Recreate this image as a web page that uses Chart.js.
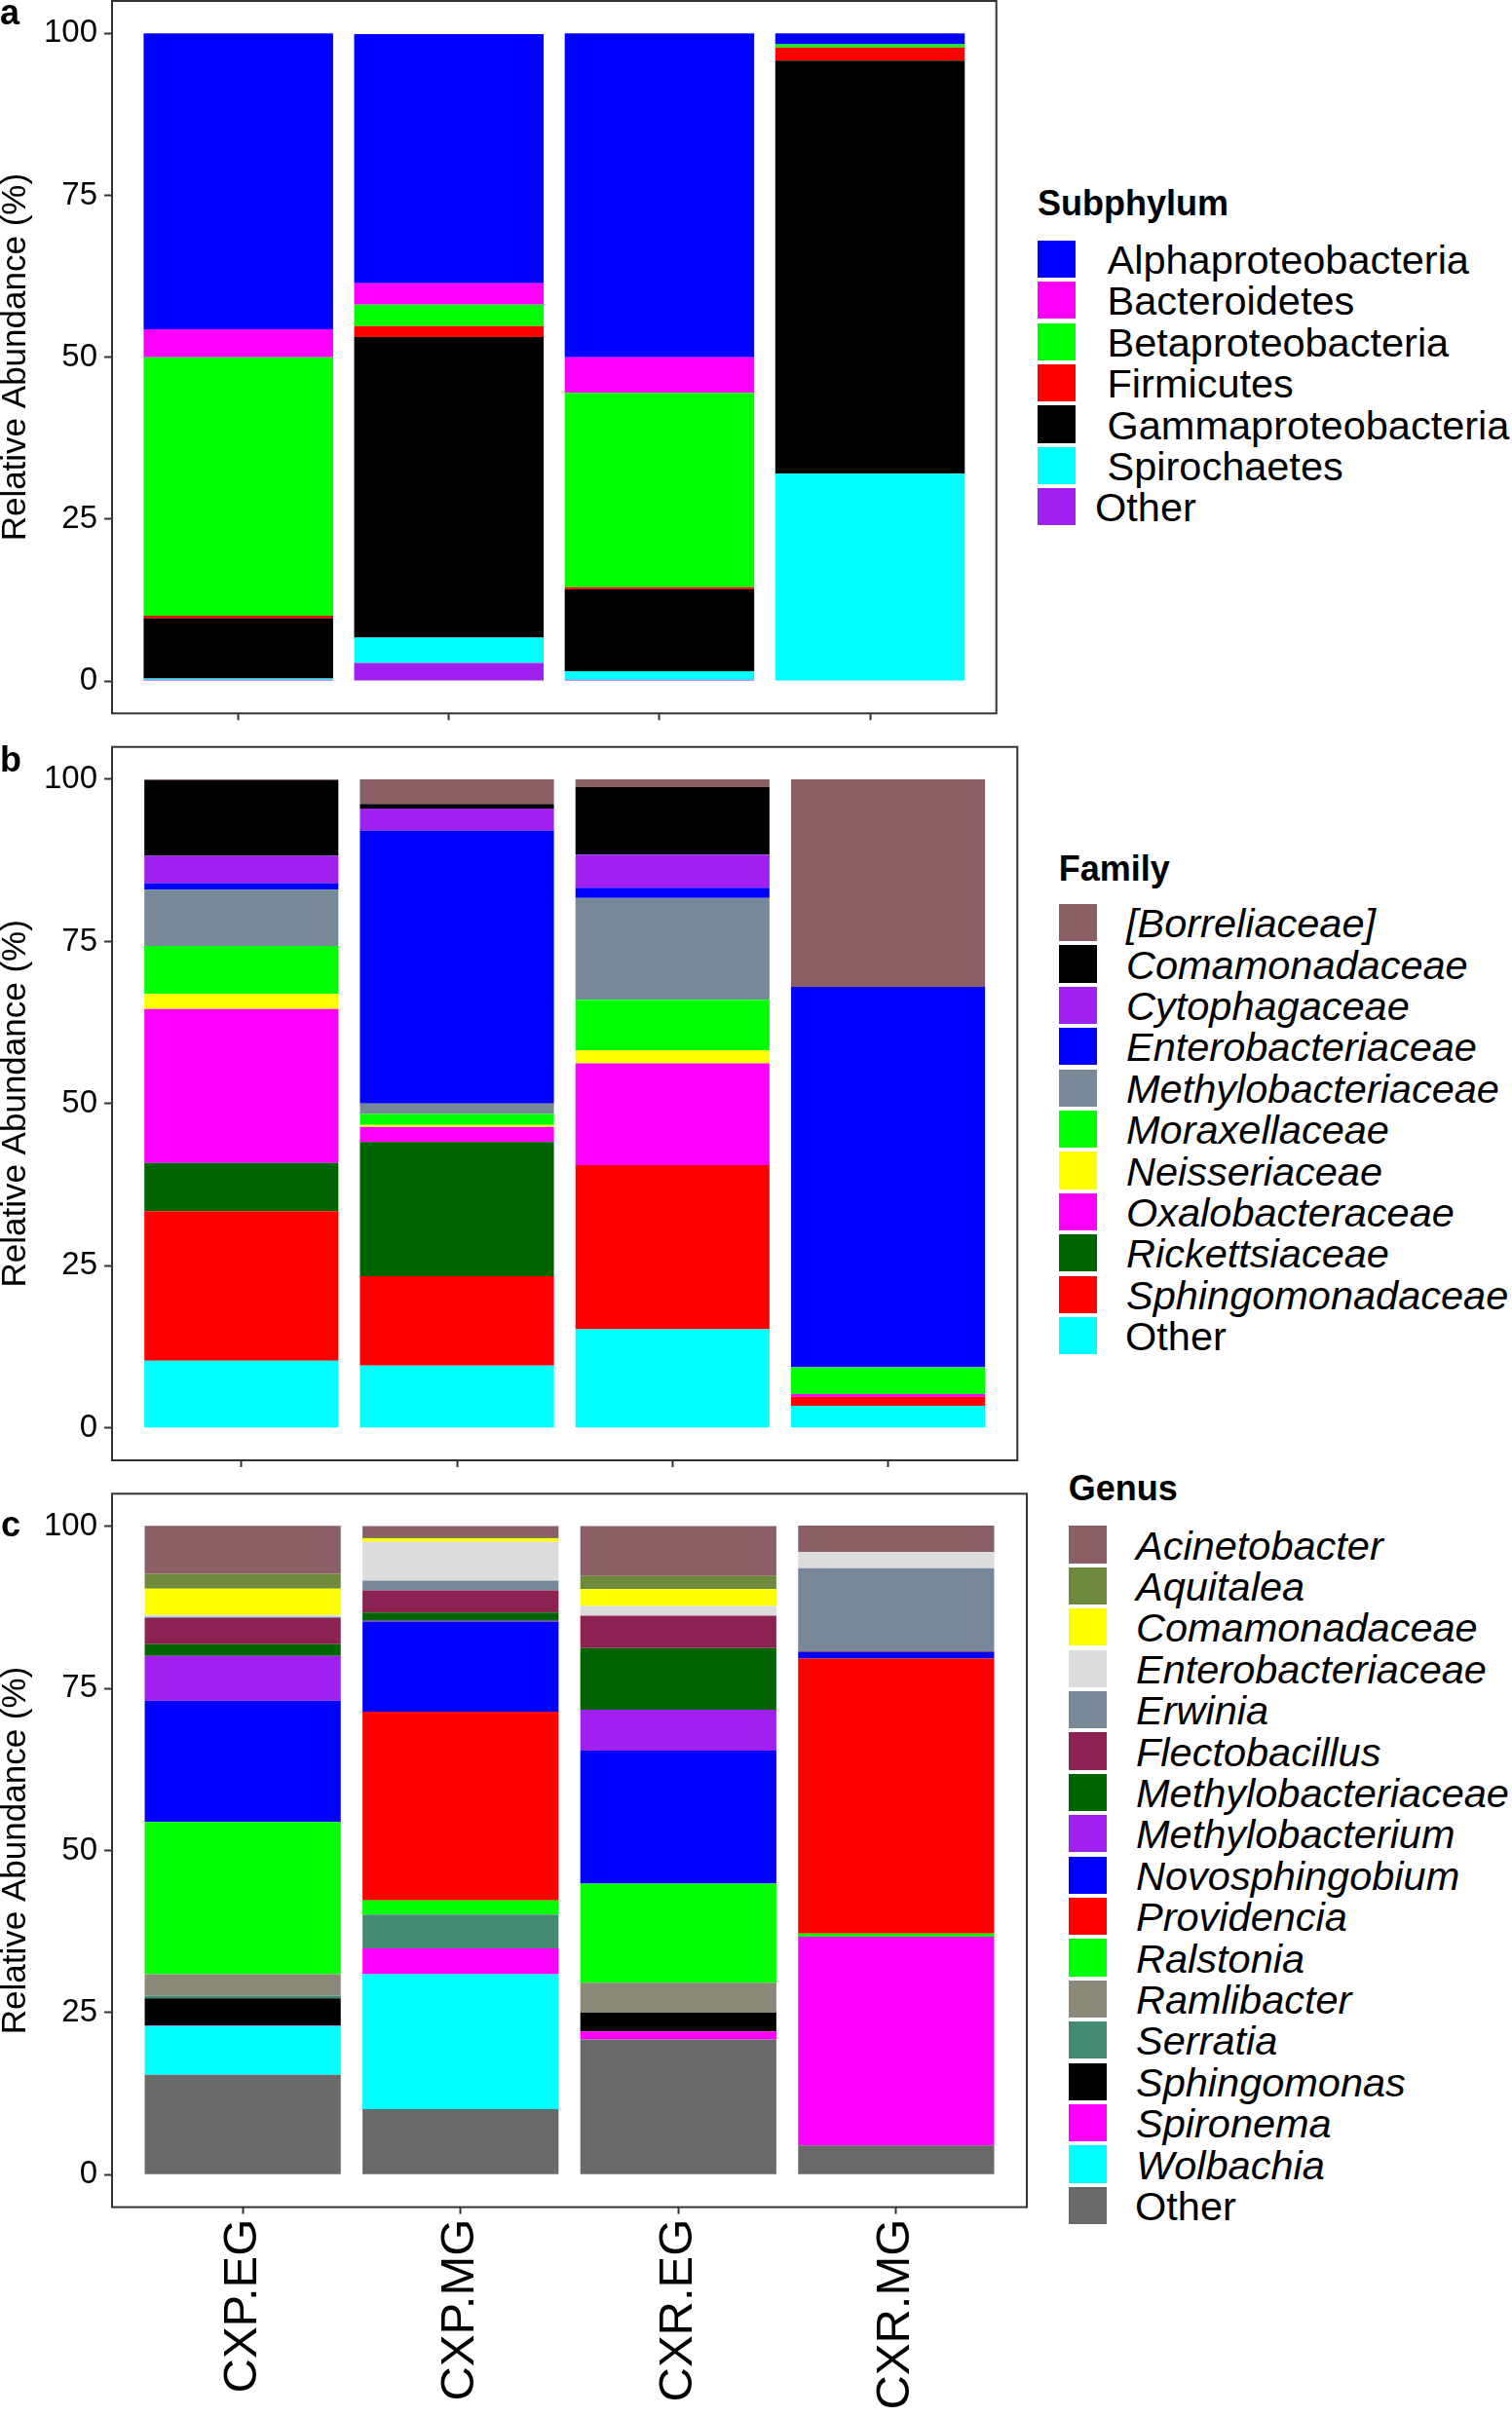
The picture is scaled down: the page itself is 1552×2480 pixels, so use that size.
<!DOCTYPE html>
<html>
<head>
<meta charset="utf-8">
<script src="https://cdn.jsdelivr.net/npm/chart.js@4/dist/chart.umd.min.js"></script>
<style>
  html, body { margin: 0; padding: 0; background: #fff; }
  #page { position: relative; width: 1552px; height: 2480px; overflow: hidden; background: #fff;
          font-family: 'Liberation Sans', Arial, sans-serif; color: #000; }
  canvas { position: absolute; left: 0; }
  .lbl { position: absolute; font-weight: bold; font-size: 36px; line-height: 36px; white-space: pre; }
  .ltitle { position: absolute; font-weight: bold; font-size: 36px; line-height: 36px; white-space: pre; }
  .lkey { position: absolute; width: 39px; height: 38.3px; }
  .ltext { position: absolute; font-size: 41.5px; line-height: 41.5px; white-space: pre; }
  .it { font-style: italic; }
</style>
</head>
<body>
<div id="page">
  <canvas id="ca" width="1030" height="760" style="top:0px"></canvas>
  <canvas id="cb" width="1052" height="780" style="top:740px"></canvas>
  <canvas id="cc" width="1062" height="980" style="top:1500px"></canvas>
</div>
<script>
// ---------- shared categories / ticks ----------
const samples = ['CXP.EG', 'CXP.MG', 'CXR.EG', 'CXR.MG'];
const yTicks = [0, 25, 50, 75, 100];

// ---------- panel a: Subphylum (legend order, top of stack first) ----------
const subphylumNames = ['Alphaproteobacteria', 'Bacteroidetes', 'Betaproteobacteria', 'Firmicutes',
                        'Gammaproteobacteria', 'Spirochaetes', 'Other'];
const alphaproteobacteria = [45.7, 38.5, 50.0, 1.7];
const bacteroidetes       = [4.3, 3.3, 5.5, 0];
const betaproteobacteria  = [39.9, 3.3, 30.0, 0.5];
const firmicutes          = [0.4, 1.7, 0.3, 2.0];
const gammaproteobacteria = [9.3, 46.4, 12.7, 63.8];
const spirochaetes        = [0.2, 3.9, 1.3, 32.0];
const subphylumOther      = [0.2, 2.8, 0.2, 0];

// ---------- panel b: Family ----------
const familyNames = ['[Borreliaceae]', 'Comamonadaceae', 'Cytophagaceae', 'Enterobacteriaceae',
                     'Methylobacteriaceae', 'Moraxellaceae', 'Neisseriaceae', 'Oxalobacteraceae',
                     'Rickettsiaceae', 'Sphingomonadaceae', 'Other'];
const borreliaceae        = [0.1, 3.8, 1.2, 32.0];
const comamonadaceaeF     = [11.7, 0.7, 10.4, 0];
const cytophagaceae       = [4.2, 3.4, 5.1, 0];
const enterobacteriaceaeF = [1.0, 42.1, 1.6, 58.6];
const methylobacteriaceaeF= [8.7, 1.6, 15.7, 0.1];
const moraxellaceae       = [7.4, 1.7, 7.8, 4.1];
const neisseriaceae       = [2.3, 0.3, 2.0, 0];
const oxalobacteraceae    = [23.75, 2.3, 15.7, 0.4];
const rickettsiaceae      = [7.45, 20.7, 0, 0];
const sphingomonadaceae   = [23.05, 13.8, 25.3, 1.4];
const familyOther         = [10.35, 9.6, 15.2, 3.4];

// ---------- panel c: Genus ----------
const genusNames = ['Acinetobacter', 'Aquitalea', 'Comamonadaceae', 'Enterobacteriaceae', 'Erwinia',
                    'Flectobacillus', 'Methylobacteriaceae', 'Methylobacterium', 'Novosphingobium',
                    'Providencia', 'Ralstonia', 'Ramlibacter', 'Serratia', 'Sphingomonas',
                    'Spironema', 'Wolbachia', 'Other'];
const acinetobacter        = [7.4, 1.7, 7.7, 4.1];
const aquitalea            = [2.3, 0.2, 2.0, 0];
const comamonadaceaeG      = [4.05, 0.5, 2.6, 0];
const enterobacteriaceaeG  = [0.3, 6.0, 1.5, 2.5];
const erwinia              = [0.2, 1.5, 0, 12.8];
const flectobacillus       = [4.0, 3.4, 5.0, 0.1];
const methylobacteriaceaeG = [1.8, 1.3, 9.5, 0];
const methylobacterium     = [6.9, 0.15, 6.3, 0];
const novosphingobium      = [18.7, 13.85, 20.5, 1.0];
const providencia          = [0, 29.1, 0, 42.4];
const ralstonia            = [23.5, 2.2, 15.3, 0.5];
const ramlibacter          = [3.3, 0, 4.6, 0];
const serratia             = [0.4, 5.2, 0, 0];
const sphingomonas         = [4.2, 0, 2.9, 0];
const spironema            = [0.1, 4.0, 1.25, 32.2];
const wolbachia            = [7.5, 20.8, 0, 0];
const genusOther           = [15.4, 10.1, 20.85, 4.5];

// ---------- colours (styles kept apart from data) ----------
const subphylumColors = ['#0000FF', '#FF00FF', '#00FF00', '#FF0000', '#000000', '#00FFFF', '#A020F0'];
const familyColors = ['#8B5F65', '#000000', '#A020F0', '#0000FF', '#778899', '#00FF00', '#FFFF00',
                      '#FF00FF', '#006400', '#FF0000', '#00FFFF'];
const genusColors = ['#8B5F65', '#6E8B3D', '#FFFF00', '#DCDCDC', '#778899', '#8B2252', '#006400',
                     '#A020F0', '#0000FF', '#FF0000', '#00FF00', '#8B8878', '#458B74', '#000000',
                     '#FF00FF', '#00FFFF', '#696969'];

const subphylumValues = [alphaproteobacteria, bacteroidetes, betaproteobacteria, firmicutes,
                         gammaproteobacteria, spirochaetes, subphylumOther];
const familyValues = [borreliaceae, comamonadaceaeF, cytophagaceae, enterobacteriaceaeF,
                      methylobacteriaceaeF, moraxellaceae, neisseriaceae, oxalobacteraceae,
                      rickettsiaceae, sphingomonadaceae, familyOther];
const genusValues = [acinetobacter, aquitalea, comamonadaceaeG, enterobacteriaceaeG, erwinia,
                     flectobacillus, methylobacteriaceaeG, methylobacterium, novosphingobium,
                     providencia, ralstonia, ramlibacter, serratia, sphingomonas, spironema,
                     wolbachia, genusOther];

const FONT = "'Liberation Sans', Arial, sans-serif";

const framePlugin = {
  id: 'frame',
  afterDatasetsDraw(chart) {
    const { ctx, chartArea: a } = chart;
    ctx.save();
    ctx.strokeStyle = '#333333';
    ctx.lineWidth = 2;
    ctx.strokeRect(a.left, a.top, a.right - a.left, a.bottom - a.top);
    ctx.restore();
  }
};

function buildDatasets(names, values, colors) {
  // first legend entry sits on top of the stack -> add datasets in reverse order
  const ds = [];
  for (let k = names.length - 1; k >= 0; k--) {
    ds.push({
      label: names[k],
      data: samples.map((s, i) => ({ x: i + 1, y: values[k][i] })),
      backgroundColor: colors[k],
      borderWidth: 0,
      barPercentage: 0.9,
      categoryPercentage: 1.0
    });
  }
  return ds;
}

function makeChart(id, names, values, colors, geo) {
  const zeroPad = s => { s.paddingLeft = 0; s.paddingRight = 0; s.paddingTop = 0; s.paddingBottom = 0; };
  return new Chart(document.getElementById(id), {
    type: 'bar',
    data: { datasets: buildDatasets(names, values, colors) },
    options: {
      responsive: false,
      animation: false,
      devicePixelRatio: 1,
      layout: { padding: { top: geo.padTop, right: geo.padRight, left: 0, bottom: 0 } },
      plugins: { legend: { display: false }, tooltip: { enabled: false } },
      scales: {
        x: {
          type: 'linear', min: 0.4, max: 4.6, stacked: true, offset: false,
          afterBuildTicks: s => { s.ticks = samples.map((c, i) => ({ value: i + 1 })); },
          ticks: {
            autoSkip: false, minRotation: 90, maxRotation: 90, padding: 5, color: '#000',
            font: { family: FONT, size: 49, lineHeight: 0.286 },
            callback: v => geo.showX ? samples[Math.round(v) - 1] : ''
          },
          grid: { offset: false, drawOnChartArea: false, drawTicks: true, tickLength: 7,
                  tickColor: '#333333', tickWidth: 2 },
          border: { display: false },
          afterFit: s => { s.height = geo.xHeight; zeroPad(s); }
        },
        y: {
          type: 'linear', min: -5, max: 105, stacked: true,
          afterBuildTicks: s => { s.ticks = yTicks.map(v => ({ value: v })); },
          ticks: { padding: 7, color: '#000', font: { family: FONT, size: 33 } },
          grid: { offset: false, drawOnChartArea: false, drawTicks: true, tickLength: 8,
                  tickColor: '#333333', tickWidth: 2 },
          border: { display: false },
          title: { display: true, text: 'Relative Abundance (%)', color: '#000', padding: 0,
                   font: { family: FONT, size: 35, lineHeight: 0.93 } },
          afterFit: s => { s.width = 115; zeroPad(s); }
        }
      }
    },
    plugins: [framePlugin]
  });
}

makeChart('ca', subphylumNames, subphylumValues, subphylumColors,
          { padTop: 1, padRight: 1030 - 1022.7, xHeight: 760 - 732.3, showX: false });
makeChart('cb', familyNames, familyValues, familyColors,
          { padTop: 766.7 - 740, padRight: 1052 - 1044.3, xHeight: 1520 - 1499, showX: false });
makeChart('cc', genusNames, genusValues, genusColors,
          { padTop: 1533.3 - 1500, padRight: 1062 - 1054, xHeight: 2480 - 2265.6, showX: true });

// ---------- panel letters and legends (HTML text) ----------
const page = document.getElementById('page');
function addDiv(cls, text, left, top, extra) {
  const d = document.createElement('div');
  d.className = cls;
  d.textContent = text;
  d.style.left = left + 'px';
  d.style.top = top + 'px';
  if (extra) Object.assign(d.style, extra);
  page.appendChild(d);
  return d;
}
addDiv('lbl', 'a', 0, -5.5);
addDiv('lbl', 'b', 0, 761.5);
addDiv('lbl', 'c', 1, 1547);

function legend(title, names, colors, geo) {
  addDiv('ltitle', title, geo.x, geo.titleTop);
  names.forEach((n, i) => {
    const top = geo.firstTop + i * 42.4;
    const k = addDiv('lkey', '', geo.x, top);
    k.style.background = colors[i];
    const isOther = n === 'Other';
    const t = addDiv('ltext', n, isOther ? geo.otherX : geo.textX, top - 0.8);
    if (geo.italic && !isOther) t.classList.add('it');
  });
}
legend('Subphylum', subphylumNames, subphylumColors,
       { x: 1065, titleTop: 191.2, firstTop: 246.7, textX: 1136.5, otherX: 1124, italic: false });
legend('Family', familyNames, familyColors,
       { x: 1086.7, titleTop: 874.1, firstTop: 928, textX: 1156, otherX: 1155, italic: true });
legend('Genus', genusNames, genusColors,
       { x: 1096.7, titleTop: 1510.3, firstTop: 1566.3, textX: 1166, otherX: 1165, italic: true });
</script>
</body>
</html>
